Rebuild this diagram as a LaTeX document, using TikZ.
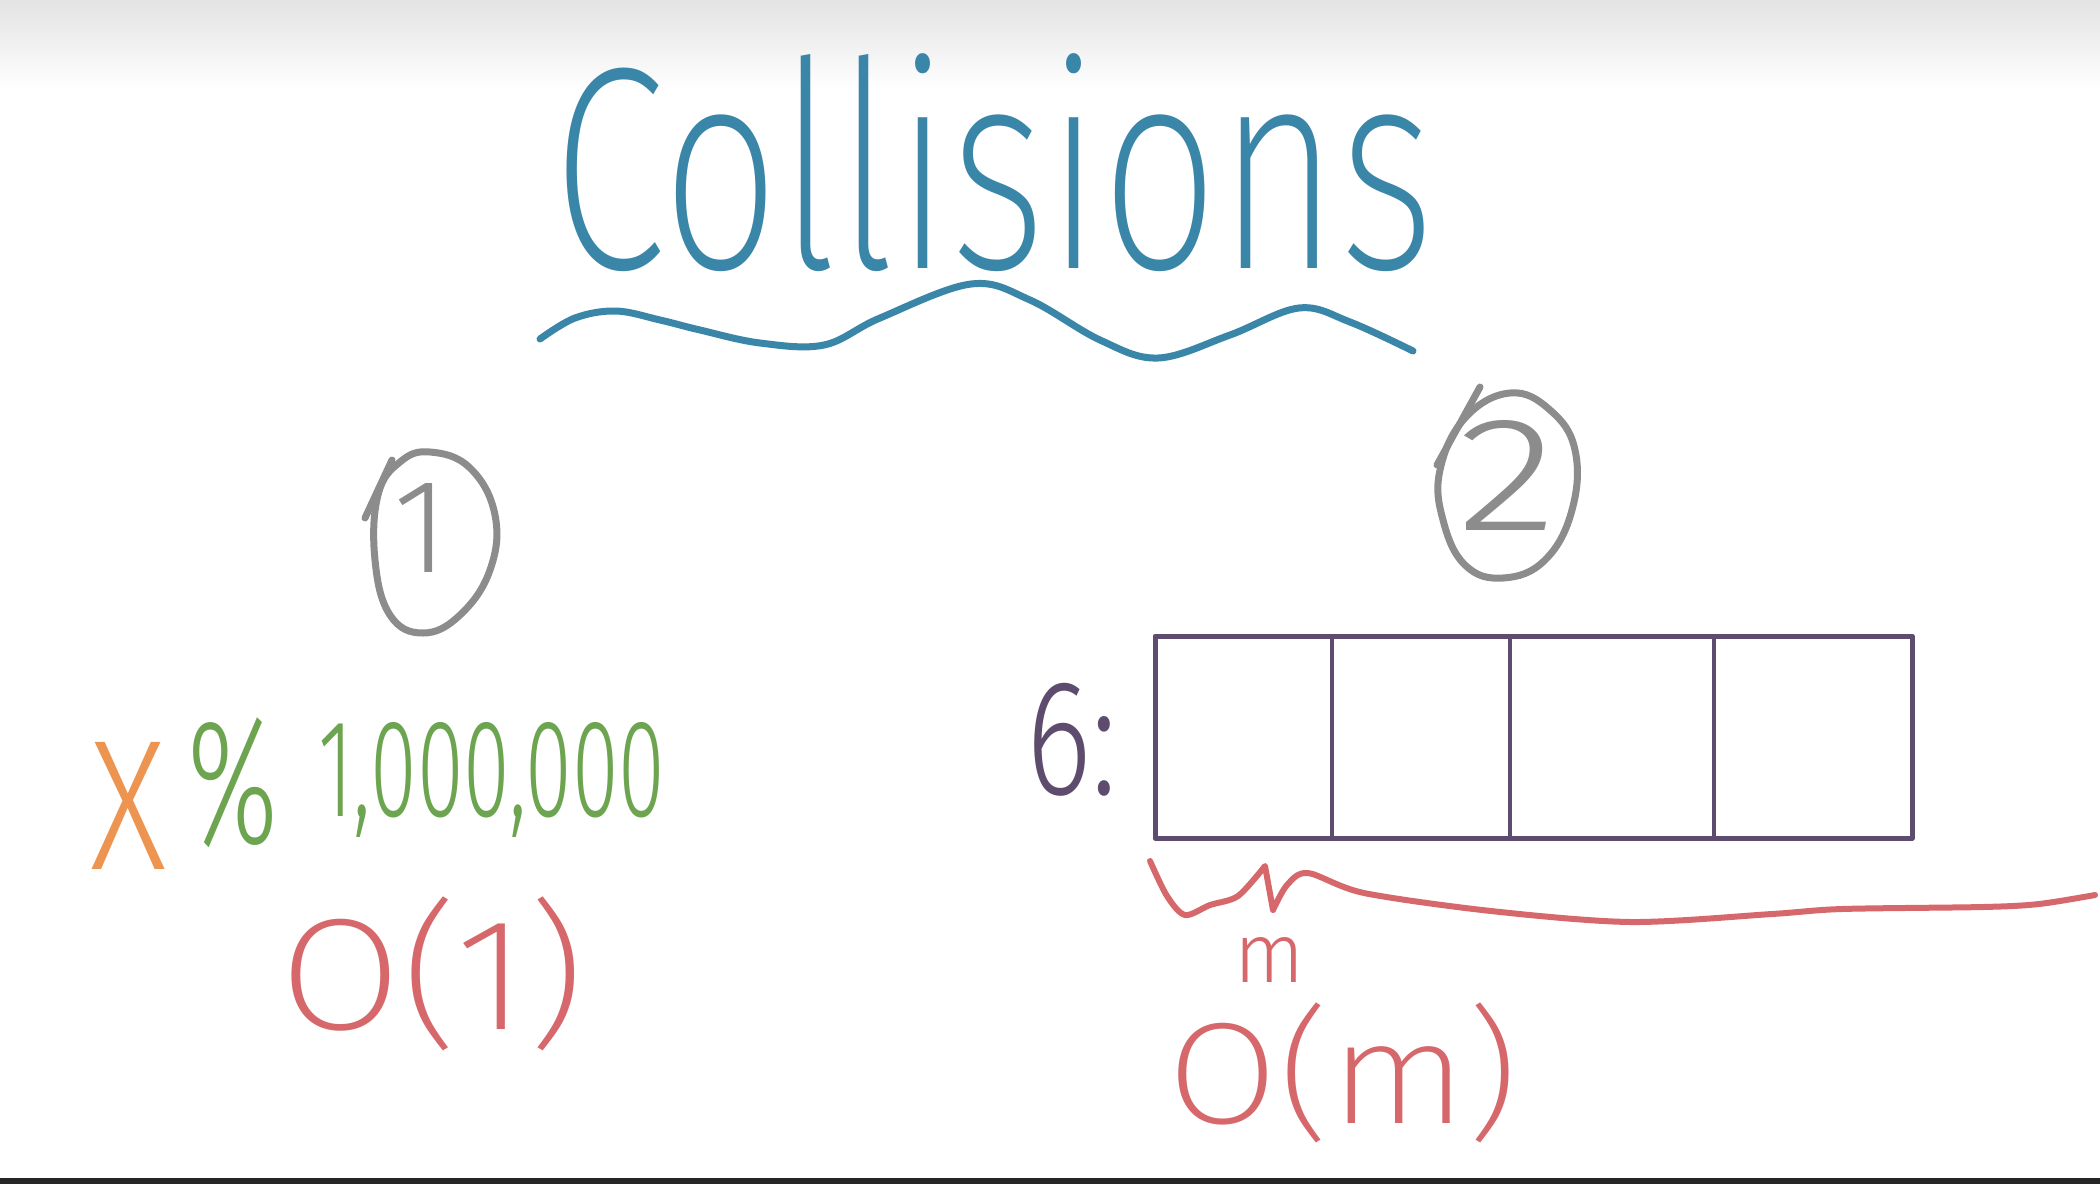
\documentclass[tikz,border=0pt]{standalone}
\usepackage{fontspec}
\usepackage{graphicx}
\newfontfamily\handxl{Fira Sans ExtraLight}
\newfontfamily\handl{Fira Sans Light}
\definecolor{cblue}{RGB}{58,134,168}
\definecolor{cgray}{RGB}{140,140,140}
\definecolor{corange}{RGB}{236,148,80}
\definecolor{cgreen}{RGB}{108,164,80}
\definecolor{cred}{RGB}{214,104,108}
\definecolor{cpurple}{RGB}{94,76,110}
\tikzset{
  hw/.style={inner sep=0pt, outer sep=0pt, font=\handl},
  hwxl/.style={inner sep=0pt, outer sep=0pt, font=\handxl},
  ink/.style={line cap=round, line join=round},
}
\begin{document}
\begin{tikzpicture}[x=1pt,y=-1pt]
\useasboundingbox (0,0) rectangle (2100,1184);
\fill[white] (0,0) rectangle (2100,1184);
\shade[top color=black!11, bottom color=white] (0,0) rectangle (2100,90);
\fill[black!85] (0,1178) rectangle (2100,1184);

% title
\node[hwxl, text=cblue] (title) at (994,163) {\resizebox*{882pt}{218pt}{Collisions}};
\draw[ink, cblue, line width=7pt] plot[smooth, tension=0.6] coordinates {
 (540,339) (575,318) (616,311) (660,320) (700,330) (760,343) (824,345)
 (880,318) (971,284) (1030,300) (1100,340) (1158,358) (1230,335) (1299,308)
 (1350,322) (1413,351)};

% circled 1
\draw[ink, cgray, line width=7pt] plot[smooth cycle, tension=0.7] coordinates {
 (430,452) (470,468) (495,515) (490,570) (460,615) (423,633) (390,615)
 (375,560) (378,495) (400,462)};
\draw[ink, cgray, line width=7pt] (365,518) -- (392,460);
\node[hw, text=cgray] (one) at (421,528) {\resizebox*{!}{89pt}{1}};

% circled 2
\draw[ink, cgray, line width=7pt] plot[smooth cycle, tension=0.7] coordinates {
 (1510,393) (1550,410) (1575,450) (1572,510) (1545,560) (1503,578)
 (1465,565) (1443,520) (1440,470) (1465,418)};
\draw[ink, cgray, line width=7pt] (1437,465) -- (1480,387);
\node[hw, text=cgray] (two) at (1507,475) {\resizebox*{100pt}{110pt}{2}};

% left expression
\node[hw, text=corange] (xvar) at (129,806) {\resizebox*{76pt}{127pt}{X}};
\node[hw, text=cgreen] (pct) at (233,783) {\resizebox*{91pt}{130pt}{\%}};
\node[hw, text=cgreen] (million) at (492,780) {\resizebox*{346pt}{115pt}{1,000,000}};
\node[hwxl, text=cred] (o1) at (432,974) {\resizebox*{306pt}{154pt}{O(1)}};

% right: bucket array
\node[hw, text=cpurple] (six) at (1072,740) {\resizebox*{91pt}{113pt}{6:}};
\draw[cpurple, line width=5pt, line join=round] (1155,636) rectangle (1912,838);
\draw[cpurple, line width=4pt] (1332,636) -- (1332,838);
\draw[cpurple, line width=4pt] (1510,636) -- (1510,840);
\draw[cpurple, line width=4pt] (1714,636) -- (1714,838);

% brace
\draw[ink, cred, line width=6pt] plot[smooth, tension=0.5] coordinates {
 (1150,861) (1167,896) (1185,915) (1210,905) (1238,896) (1265,866)}
 -- (1273,910) -- plot[smooth, tension=0.5] coordinates {
 (1273,910) (1287,885) (1308,873) (1364,893) (1491,911) (1631,922)
 (1772,914) (1842,909) (1983,907) (2039,904) (2095,895)};
\node[hw, text=cred] (msub) at (1270,960) {\resizebox*{70pt}{45pt}{m}};
\node[hwxl, text=cred] (om) at (1343,1073) {\resizebox*{351pt}{140pt}{O(m)}};
\end{tikzpicture}
\end{document}
